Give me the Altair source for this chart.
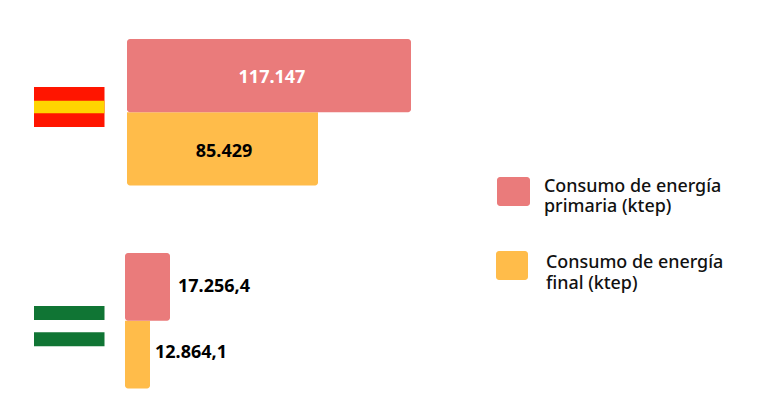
import altair as alt
import pandas as pd

series = ["Consumo de energía primaria (ktep)", "Consumo de energía final (ktep)"]
spain_values = [117147, 85429]
spain_labels = ["117.147", "85.429"]
andalucia_values = [17256.4, 12864.1]
andalucia_labels = ["17.256,4", "12.864,1"]
colors = ["#EA7B7B", "#FFBC4A"]
legend_lines = [["Consumo de energía", "primaria (ktep)"], ["Consumo de energía", "final (ktep)"]]

FONT = "Noto Sans"
x_scale = alt.Scale(
    domain=[0, 12864.1, 17256.4, 85429, 117147],
    range=[119, 144, 164, 310, 403],
    nice=False, zero=False,
)
color_scale = alt.Scale(domain=series, range=colors)


def region(values, labels, y_range, x_offset, dxs, dys, text_colors):
    df = pd.DataFrame({"serie": series, "v": values, "label": labels, "base": [0, 0]})
    y = alt.Y("serie:N", axis=None, sort=series,
              scale=alt.Scale(type="band", domain=series, range=y_range, paddingInner=0, paddingOuter=0))
    x = alt.X("v:Q", axis=None, stack=None, scale=x_scale)
    color = alt.Color("serie:N", scale=color_scale, legend=None)
    final_bar = alt.Chart(df.iloc[[1]]).mark_bar(
        cornerRadiusBottomLeft=3, cornerRadiusBottomRight=3, xOffset=x_offset, x2Offset=x_offset
    ).encode(x=x, x2="base:Q", y=y, color=color)
    primary_bar = alt.Chart(df.iloc[[0]]).mark_bar(
        cornerRadius=3, xOffset=x_offset, x2Offset=x_offset
    ).encode(x=x, x2="base:Q", y=y, color=color)
    layers = [final_bar, primary_bar]
    for i in range(2):
        layers.append(
            alt.Chart(df.iloc[[i]]).mark_text(
                font=FONT, fontWeight="bold", fontSize=18, align=dxs[i][1], dx=dxs[i][0], dy=dys[i],
                color=text_colors[i]).encode(x=x, y=y, text="label:N"))
    return layers


def box(x0, x1, y0, y1, color, radius=0):
    return alt.Chart(pd.DataFrame({"a": [0]})).mark_rect(color=color, cornerRadius=radius).encode(
        x=alt.value(x0 - 8), x2=alt.value(x1 - 8), y=alt.value(y0 - 8), y2=alt.value(y1 - 8))


def line(text, x0, yc):
    return alt.Chart(pd.DataFrame({"t": [text]})).mark_text(
        font=FONT, fontSize=17.9, fontWeight=500, align="left", baseline="middle", color="#111111"
    ).encode(text="t:N", x=alt.value(x0 - 8), y=alt.value(yc - 8))


spain = region(spain_values, spain_labels, [31, 177.5], 0,
               [(-139, "center"), (-94, "center")], [2, 3], ["white", "black"])
andalucia = region(andalucia_values, andalucia_labels, [245, 380.5], -2,
                   [(6, "left"), (3, "left")], [0, -2], ["black", "black"])

flags = [
    box(34, 104.5, 87, 127, "#FF1500"),
    box(34, 104.5, 100.7, 113.3, "#FFD500"),
    box(34, 104.5, 306, 320, "#107534"),
    box(34, 104.5, 332.3, 346.3, "#107534"),
]
legend = [
    box(497, 530, 177, 206, colors[0], 3),
    box(496, 528, 251, 280, colors[1], 3),
    line(legend_lines[0][0], 544, 187),
    line(legend_lines[0][1], 544, 207),
    line(legend_lines[1][0], 546, 263),
    line(legend_lines[1][1], 546, 284),
]

chart = alt.layer(*andalucia, *spain, *flags, *legend).resolve_scale(y="independent").properties(
    width=742, height=390, padding=0, autosize=alt.AutoSizeParams(type="none")
).configure_view(stroke=None)

chart.save("out.html", embed_options={"renderer": "svg", "actions": False})
